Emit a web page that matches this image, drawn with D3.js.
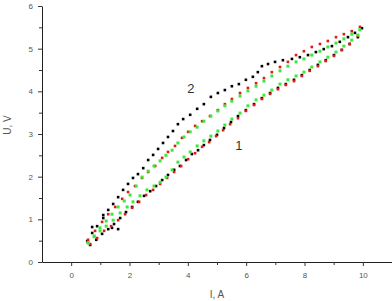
<!DOCTYPE html>
<html>
<head>
<meta charset="utf-8">
<script src="https://cdnjs.cloudflare.com/ajax/libs/d3/7.8.5/d3.min.js"></script>
<style>
  html, body { margin: 0; padding: 0; background: #fff; }
  svg { display: block; font-family: "Liberation Sans", Arial, sans-serif; }
</style>
</head>
<body>
<div id="chart"></div>
<script>
// U-I hysteresis loops
var xMajor = [0, 2, 4, 6, 8, 10];
var xMinor = [1, 3, 5, 7, 9];
var yMajor = [0, 1, 2, 3, 4, 5, 6];
var yMinor = [0.5, 1.5, 2.5, 3.5, 4.5, 5.5];

// curve 2 (rising, upper) branches
var blackUpI = [0.55,0.72,0.89,1.10,1.27,1.44,1.61,1.78,1.95,2.12,2.29,2.47,2.64,2.81,2.98,3.15,3.32,3.49,3.66,3.84,4.08,4.32,4.55,4.79,5.03,5.27,5.51,5.75,5.99,6.23,6.40,6.54,6.75,6.99,7.26,7.57,7.84,8.12,8.39,8.66,8.94,9.21,9.49,9.73,9.97];
var blackUpU = [0.49,0.68,0.84,1.03,1.22,1.36,1.52,1.69,1.83,1.97,2.06,2.20,2.39,2.51,2.65,2.79,2.93,3.07,3.23,3.35,3.45,3.59,3.70,3.87,3.96,4.03,4.12,4.17,4.27,4.34,4.45,4.59,4.64,4.69,4.73,4.76,4.80,4.85,4.92,4.99,5.06,5.16,5.27,5.37,5.48];
var redUpI = [0.58,0.82,1.06,1.27,1.51,1.75,1.95,2.19,2.43,2.64,2.88,3.12,3.32,3.56,3.80,4.01,4.25,4.49,4.76,5.03,5.27,5.51,5.79,6.06,6.34,6.61,6.88,7.16,7.43,7.71,7.98,8.25,8.53,8.80,9.08,9.35,9.62,9.90];
var redUpU = [0.52,0.73,0.94,1.12,1.29,1.48,1.64,1.78,1.97,2.11,2.25,2.44,2.58,2.72,2.91,3.05,3.19,3.30,3.42,3.56,3.70,3.82,3.96,4.08,4.19,4.31,4.45,4.57,4.69,4.85,4.94,5.04,5.11,5.18,5.27,5.34,5.41,5.51];
var greenUpI = [0.58,0.79,0.99,1.20,1.40,1.61,1.82,2.02,2.23,2.43,2.64,2.84,3.05,3.25,3.46,3.66,3.87,4.08,4.32,4.55,4.79,5.03,5.27,5.51,5.79,6.06,6.34,6.61,6.88,7.16,7.43,7.71,7.98,8.25,8.53,8.80,9.08,9.35,9.62,9.90];
var greenUpU = [0.45,0.61,0.80,0.96,1.12,1.29,1.43,1.57,1.78,1.99,2.13,2.25,2.37,2.50,2.62,2.79,2.93,3.05,3.16,3.30,3.42,3.54,3.66,3.77,3.89,4.01,4.12,4.24,4.36,4.48,4.59,4.69,4.76,4.85,4.94,5.04,5.13,5.23,5.34,5.44];

// curve 1 (falling, lower) branches
var blackLoI = [0.65,0.86,1.06,1.27,1.47,1.68,1.88,2.09,2.29,2.50,2.71,2.91,3.12,3.32,3.53,3.73,3.94,4.14,4.35,4.55,4.76,5.00,5.24,5.48,5.72,5.99,6.27,6.54,6.82,7.09,7.36,7.64,7.91,8.18,8.46,8.73,9.01,9.28,9.55,9.83, 0.72,1.40,1.61,1.10];
var blackLoU = [0.40,0.52,0.66,0.77,0.89,1.03,1.17,1.29,1.41,1.55,1.66,1.78,1.92,2.04,2.16,2.25,2.39,2.53,2.62,2.74,2.86,2.98,3.14,3.28,3.42,3.56,3.70,3.84,3.96,4.08,4.17,4.27,4.38,4.50,4.62,4.73,4.85,4.97,5.11,5.27, 0.82,0.80,0.77,1.10];
var redLoI = [0.65,0.89,1.13,1.37,1.61,1.85,2.09,2.33,2.57,2.81,3.05,3.29,3.53,3.77,4.01,4.25,4.49,4.73,4.97,5.21,5.45,5.72,5.99,6.27,6.54,6.82,7.09,7.36,7.64,7.91,8.18,8.46,8.73,9.01,9.28,9.55,9.83];
var redLoU = [0.42,0.56,0.73,0.84,0.98,1.12,1.27,1.41,1.57,1.69,1.83,1.97,2.11,2.25,2.41,2.55,2.70,2.81,2.95,3.09,3.23,3.37,3.54,3.68,3.82,3.94,4.05,4.15,4.24,4.36,4.48,4.59,4.71,4.83,4.97,5.11,5.30];
var greenLoI = [0.58,0.79,0.99,1.20,1.44,1.68,1.92,2.12,2.36,2.60,2.84,3.05,3.25,3.46,3.66,3.87,4.08,4.32,4.55,4.79,5.03,5.27,5.51,5.79,6.06,6.34,6.61,6.88,7.16,7.43,7.71,7.98,8.25,8.53,8.80,9.08,9.35,9.62,9.83];
var greenLoU = [0.45,0.59,0.73,0.84,0.98,1.15,1.29,1.41,1.55,1.69,1.78,1.87,1.99,2.16,2.34,2.46,2.58,2.72,2.84,2.95,3.07,3.21,3.35,3.49,3.66,3.80,3.91,4.03,4.17,4.27,4.36,4.45,4.57,4.69,4.80,4.92,5.06,5.20,5.32];

var curveLabels = ['2', '1'];
var labelI = [4.1, 5.75];
var labelU = [3.97, 2.63];

var width = 392, height = 301;
var svg = d3.select('#chart').append('svg').attr('width', width).attr('height', height);
svg.append('rect').attr('width', width).attr('height', height).attr('fill', '#fff');

var x = d3.scaleLinear().domain([-1, 11]).range([42, 392]);
var y = d3.scaleLinear().domain([0, 6]).range([262, 6]);

function zip(a, b) { return a.map(function(v, i) { return [v, b[i]]; }); }

var series = [
  { pts: zip(blackUpI, blackUpU), color: '#000', s: 2.6 },
  { pts: zip(blackLoI, blackLoU), color: '#000', s: 2.6 },
  { pts: zip(redUpI, redUpU), color: '#e01818', s: 2.6 },
  { pts: zip(redLoI, redLoU), color: '#e01818', s: 2.6 },
  { pts: zip(greenUpI, greenUpU), color: '#3de83d', s: 3 },
  { pts: zip(greenLoI, greenLoU), color: '#3de83d', s: 3 }
];

var g = svg.append('g');
series.forEach(function(sr) {
  g.selectAll(null).data(sr.pts).enter().append('rect')
    .attr('x', function(d) { return x(d[0]) - sr.s / 2; })
    .attr('y', function(d) { return y(d[1]) - sr.s / 2; })
    .attr('width', sr.s).attr('height', sr.s)
    .attr('fill', sr.color);
});

// axes
svg.append('g').attr('transform', 'translate(0,262)')
  .call(d3.axisBottom(x).tickValues(xMajor).tickSize(4).tickSizeOuter(0).tickPadding(6).tickFormat(d3.format('d')));
svg.append('g').attr('transform', 'translate(0,262)')
  .call(d3.axisBottom(x).tickValues(xMinor).tickSize(3).tickFormat('').tickSizeOuter(0))
  .select('.domain').remove();
svg.append('g').attr('transform', 'translate(42,0)')
  .call(d3.axisLeft(y).tickValues(yMajor).tickSize(4).tickSizeOuter(0).tickPadding(5).tickFormat(d3.format('d')));
svg.append('g').attr('transform', 'translate(42,0)')
  .call(d3.axisLeft(y).tickValues(yMinor).tickSize(3).tickFormat('').tickSizeOuter(0))
  .select('.domain').remove();

svg.selectAll('.domain').attr('stroke', '#222');
svg.selectAll('.tick line').attr('stroke', '#333');
svg.selectAll('.tick text').attr('fill', '#555').attr('font-size', '8px')
  .attr('font-family', '"Liberation Sans", Arial, sans-serif');

svg.append('text').attr('x', 217).attr('y', 298).attr('text-anchor', 'middle')
  .attr('font-size', '10px').attr('fill', '#555').text('I, A');
svg.append('text').attr('transform', 'translate(11,125) rotate(-90)').attr('text-anchor', 'middle')
  .attr('font-size', '10px').attr('fill', '#555').text('U, V');

svg.selectAll('.curve-label').data(curveLabels).enter().append('text')
  .attr('class', 'curve-label')
  .attr('x', function(d, i) { return x(labelI[i]); })
  .attr('y', function(d, i) { return y(labelU[i]); })
  .attr('text-anchor', 'middle').attr('font-size', '13px').attr('fill', '#333')
  .text(function(d) { return d; });
</script>
</body>
</html>
